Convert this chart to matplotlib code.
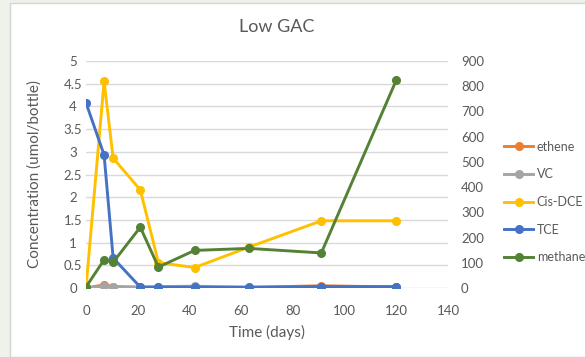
import numpy as np
import matplotlib.pyplot as plt
from matplotlib.patches import Rectangle
from matplotlib.lines import Line2D

plt.rcParams['font.family'] = ['Lato', 'DejaVu Sans']

# sampling days
days = [0, 7, 10.5, 21, 28, 42, 63, 91, 120]

# concentrations, umol/bottle (left axis)
ethene = [0.0, 0.07, 0.03, 0.02, 0.01, 0.01, 0.01, 0.05, 0.02]
vc = [0.0, 0.04, 0.03, 0.01, 0.03, 0.04, 0.01, 0.01, 0.02]
cis_dce = [0.0, 4.55, 2.86, 2.16, 0.56, 0.45, 0.9, 1.48, 1.48]
tce = [4.08, 2.93, 0.66, 0.02, 0.02, 0.02, 0.02, 0.03, 0.03]

# methane on the secondary axis
methane = [4, 112, 102, 241, 83, 149, 157, 139, 824]

series = [('ethene', ethene, '#ED7D31'),
          ('VC', vc, '#A5A5A5'),
          ('Cis-DCE', cis_dce, '#FFC000'),
          ('TCE', tce, '#4472C4')]
methane_color = '#548235'
text_color = '#595959'

fig = plt.figure(figsize=(5.85, 3.57), dpi=100)
fig.patch.set_facecolor('#eff2ea')
fig.patches.append(Rectangle((10 / 585, 0), 1, 1 - 3 / 357, transform=fig.transFigure,
                             facecolor='white', edgecolor='#d4d4d4', linewidth=1, zorder=-5))

ax = fig.add_axes([86 / 585, 1 - 288 / 357, (448 - 86) / 585, (288 - 61) / 357])
ax.set_facecolor('none')
ax2 = ax.twinx()
ax2.set_facecolor('none')

for name, vals, col in series:
    ax.plot(days, vals, color=col, lw=2.1, marker='o', ms=5.5, label=name)
ax2.plot(days, methane, color=methane_color, lw=2.1, marker='o', ms=5.5, label='methane')

ax.set_xlim(0, 140)
ax.set_ylim(0, 5)
ax2.set_ylim(0, 900)
ax.set_xticks(np.arange(0, 141, 20))
ax.set_yticks(np.arange(0, 5.01, 0.5))
ax.set_yticklabels(['0', '0.5', '1', '1.5', '2', '2.5', '3', '3.5', '4', '4.5', '5'], ha='center')
ax2.set_yticks(np.arange(0, 901, 100))
ax.grid(axis='y', color='#d9d9d9', lw=1)
ax.set_axisbelow(True)

for a in (ax, ax2):
    for s in a.spines.values():
        s.set_visible(False)
    a.tick_params(length=0, labelsize=9.5, colors=text_color)
ax.tick_params(axis='x', pad=12)
ax.tick_params(axis='y', pad=9.4)
ax2.tick_params(axis='y', pad=9.4)

ax.set_xlabel('Time (days)', fontsize=11, color=text_color, labelpad=6)
ax.set_ylabel('Concentration (umol/bottle)', fontsize=11, color=text_color)
ax.yaxis.set_label_coords(-44 / 362, 0.5)
fig.text(277 / 585, 1 - 27 / 357, 'Low GAC', ha='center', va='center', fontsize=13, color=text_color)

handles = [Line2D([], [], color=c, lw=2.1, marker='o', ms=5.5) for _, _, c in series]
handles.append(Line2D([], [], color=methane_color, lw=2.1, marker='o', ms=5.5))
labels = [n for n, _, _ in series] + ['methane']
fig.legend(handles, labels, loc='center left', bbox_to_anchor=(493 / 585, 1 - 202 / 357),
           frameon=False, fontsize=9, labelcolor=text_color, handlelength=2.3,
           handletextpad=0.3, labelspacing=1.25)

fig.savefig('out.png', dpi=100)
